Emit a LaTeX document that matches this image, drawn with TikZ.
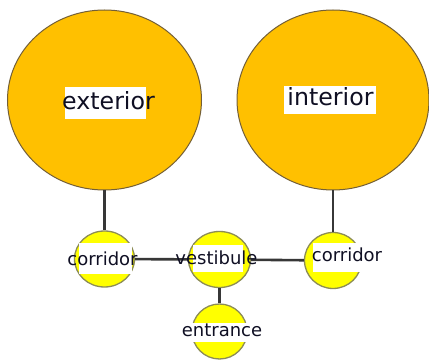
\documentclass[tikz,border=0pt]{standalone}
\usepackage{fontspec}
\setmainfont{DejaVu Sans}
\usetikzlibrary{shapes.geometric}
\definecolor{gold}{RGB}{255,192,0}
\definecolor{lemon}{RGB}{255,255,0}
\definecolor{rimbig}{RGB}{115,95,55}
\definecolor{rimsmall}{RGB}{140,140,85}
\definecolor{linkgray}{RGB}{55,55,55}
\definecolor{ink}{RGB}{15,15,35}
\tikzset{
	bigroom/.style={ellipse, draw=rimbig, fill=gold, line width=1pt, inner sep=0pt, minimum width=194pt, minimum height=180pt},
	smallroom/.style={ellipse, draw=rimsmall, fill=lemon, line width=1.3pt, inner sep=0pt, minimum width=58pt, minimum height=56pt},
	bigname/.style={text=ink, font=\fontsize{23.7}{28}\selectfont, anchor=base, inner sep=0pt},
	smallname/.style={text=ink, font=\fontsize{18}{22}\selectfont, anchor=base, inner sep=0pt},
	link/.style={draw=linkgray, line width=2.6pt}
}

\begin{document}
\begin{tikzpicture}[x=1pt, y=-1pt]
		%%%%% START %%%%%
		
		\useasboundingbox (0, 0) rectangle (429, 363);
		\fill[white] (0, 0) rectangle (429, 363);
		
		\node[bigroom] (exterior) at (104.5, 100) {};
		\node[bigroom, minimum width=192pt] (interior) at (333, 100) {};
		
		\node[smallroom, minimum width=60pt] (corridorL) at (104.5, 259) {};
		\node[smallroom, minimum width=62pt] (vestibule) at (219.5, 259.5) {};
		\node[smallroom, minimum width=57pt] (corridorR) at (333, 260.5) {};
		\node[smallroom, minimum width=55pt, minimum height=55pt] (entrance) at (219.5, 331.5) {};
		
		\draw[link] (exterior) -- (corridorL);
		\draw[link] (interior) -- (corridorR);
		\draw[link] (corridorL) -- (vestibule);
		\draw[link] (vestibule) -- (corridorR);
		\draw[link] (vestibule) -- (entrance);
		
		\fill[white] (65, 87) rectangle (146, 119);
		\fill[white] (284, 86) rectangle (376, 114);
		\fill[white] (79, 243) rectangle (132, 274);
		\fill[white] (193, 245) rectangle (243, 272);
		\fill[white] (313, 243) rectangle (363, 272);
		\fill[white] (190, 323) rectangle (249, 342);
		
		\node[bigname] (exteriortext) at (108.5, 110) {exterior};
		\node[bigname] (interiortext) at (330.5, 106) {interior};
		\node[smallname] (corridorLtext) at (102.5, 266) {corridor};
		\node[smallname] (vestibuletext) at (216.5, 265) {vestibule};
		\node[smallname] (corridorRtext) at (347, 262) {corridor};
		\node[smallname] (entrancetext) at (222, 337) {entrance};
		
		%%%%% END %%%%%
	\end{tikzpicture}
\end{document}
